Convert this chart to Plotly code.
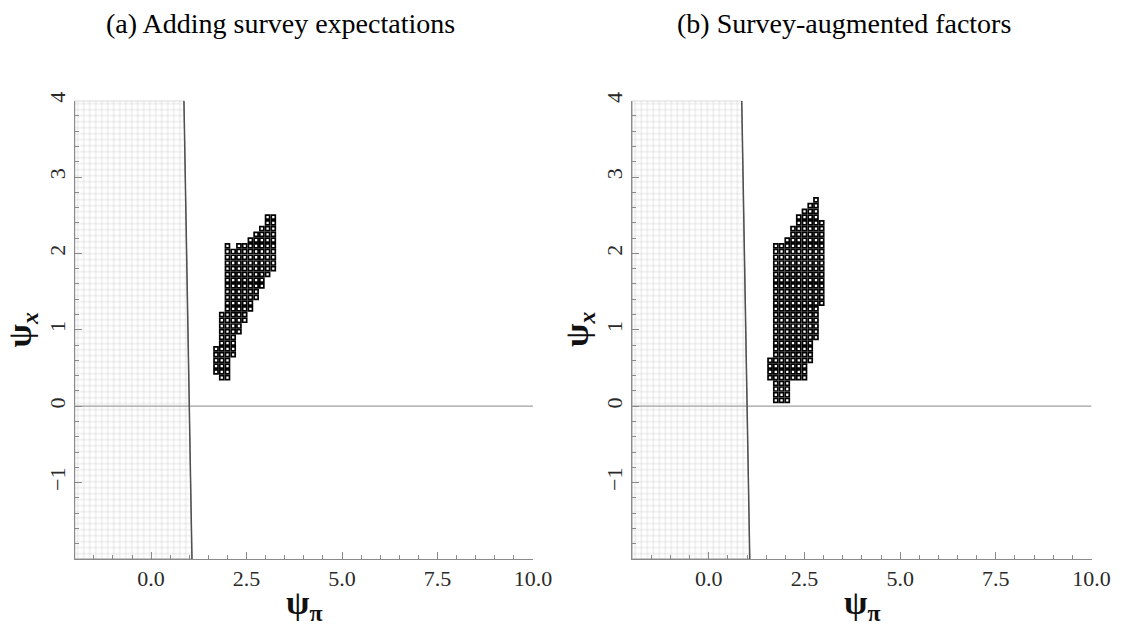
import numpy as np
import plotly.graph_objects as go

# ---------------- data ----------------
X_RANGE = [-2, 10]
Y_RANGE = [-2, 4]
X_TICKVALS = [0, 2.5, 5, 7.5, 10]
X_TICKTEXT = ["0.0", "2.5", "5.0", "7.5", "10.0"]
Y_TICKVALS = [-1, 0, 1, 2, 3, 4]
Y_TICKTEXT = ["\u22121", "0", "1", "2", "3", "4"]

# indeterminacy boundary (psi_pi at psi_x = 4 and psi_x = -2)
BOUNDARY_X = [0.86, 1.07]
BOUNDARY_Y = [4, -2]

GRID_DX = 0.15  # spacing of evaluated psi_pi grid points

TITLES = ["(a) Adding survey expectations", "(b) Survey-augmented factors"]

# panel (a): rows of the highlighted region (psi_x, first psi_pi, last psi_pi)
A_ROW_Y = [2.475, 2.4, 2.325, 2.25, 2.175, 2.1, 2.025, 1.95, 1.875, 1.8,
           1.725, 1.65, 1.575, 1.5, 1.425, 1.35, 1.275, 1.2, 1.125, 1.05,
           0.975, 0.9, 0.825, 0.75, 0.675, 0.6, 0.525, 0.45, 0.375]
A_ROW_XMIN = [3.05, 3.05, 2.9, 2.75, 2.6, 2.3, 2.0, 2.0, 2.0, 2.0,
              2.0, 2.0, 2.0, 2.0, 2.0, 2.0, 2.0, 1.85, 1.85, 1.85,
              1.85, 1.85, 1.85, 1.7, 1.7, 1.7, 1.7, 1.7, 1.85]
A_ROW_XMAX = [3.2, 3.2, 3.2, 3.2, 3.2, 3.2, 3.2, 3.2, 3.2, 3.2,
              3.05, 2.9, 2.9, 2.75, 2.75, 2.6, 2.6, 2.45, 2.45, 2.3,
              2.3, 2.15, 2.15, 2.15, 2.15, 2.0, 2.0, 2.0, 2.0]
A_EXTRA_X = [2.0]
A_EXTRA_Y = [2.1]

# panel (b)
B_ROW_Y = [2.7, 2.625, 2.55, 2.475, 2.4, 2.325, 2.25, 2.175, 2.1, 2.025,
           1.95, 1.875, 1.8, 1.725, 1.65, 1.575, 1.5, 1.425, 1.35, 1.275,
           1.2, 1.125, 1.05, 0.975, 0.9, 0.825, 0.75, 0.675, 0.6, 0.525,
           0.45, 0.375, 0.3, 0.225, 0.15, 0.075]
B_ROW_XMIN = [2.8, 2.65, 2.5, 2.35, 2.35, 2.2, 2.2, 2.05, 1.75, 1.75,
              1.75, 1.75, 1.75, 1.75, 1.75, 1.75, 1.75, 1.75, 1.75, 1.75,
              1.75, 1.75, 1.75, 1.75, 1.75, 1.75, 1.75, 1.75, 1.6, 1.6,
              1.6, 1.6, 1.75, 1.75, 1.75, 1.75]
B_ROW_XMAX = [2.8, 2.8, 2.8, 2.8, 2.95, 2.95, 2.95, 2.95, 2.95, 2.95,
              2.95, 2.95, 2.95, 2.95, 2.95, 2.95, 2.95, 2.95, 2.95, 2.8,
              2.8, 2.8, 2.8, 2.8, 2.8, 2.65, 2.65, 2.65, 2.65, 2.5,
              2.5, 2.5, 2.05, 2.05, 2.05, 2.05]


def expand(row_y, row_xmin, row_xmax, extra_x=(), extra_y=()):
    xs, ys = [], []
    for y, x0, x1 in zip(row_y, row_xmin, row_xmax):
        n = int(round((x1 - x0) / GRID_DX)) + 1
        for k in range(n):
            xs.append(x0 + k * GRID_DX)
            ys.append(y)
    xs += list(extra_x)
    ys += list(extra_y)
    return xs, ys


panels = [
    expand(A_ROW_Y, A_ROW_XMIN, A_ROW_XMAX, A_EXTRA_X, A_EXTRA_Y),
    expand(B_ROW_Y, B_ROW_XMIN, B_ROW_XMAX),
]

# ---------------- figure ----------------
W, H = 1140, 625
X_DOMAINS = [[76 / W, 542 / W], [643 / W, 1110 / W]]
Y_DOMAIN = [1 - 558 / H, 1 - 93 / H]
AXIS_GRAY = "#8a8a8a"
SERIF = "Liberation Serif, Times New Roman, serif"

fig = go.Figure()

for i, (px, py) in enumerate(panels):
    xa = "x" if i == 0 else "x2"
    ya = "y" if i == 0 else "y2"
    # hatched indeterminacy region
    fig.add_trace(go.Scatter(
        x=[X_RANGE[0], BOUNDARY_X[0], BOUNDARY_X[1], X_RANGE[0], X_RANGE[0]],
        y=[Y_RANGE[1], BOUNDARY_Y[0], BOUNDARY_Y[1], Y_RANGE[0], Y_RANGE[1]],
        mode="lines", fill="toself",
        fillpattern=dict(shape="+", size=6, solidity=0.2,
                         fgcolor="#a8a8a8", bgcolor="white"),
        line=dict(color="#a0a0a0", width=1),
        xaxis=xa, yaxis=ya, hoverinfo="skip"))
    # zero line
    fig.add_trace(go.Scatter(
        x=X_RANGE, y=[0, 0], mode="lines",
        line=dict(color="#a0a0a0", width=1.2),
        xaxis=xa, yaxis=ya, hoverinfo="skip"))
    # boundary line
    fig.add_trace(go.Scatter(
        x=BOUNDARY_X, y=BOUNDARY_Y, mode="lines",
        line=dict(color="#505050", width=1.5),
        xaxis=xa, yaxis=ya, hoverinfo="skip"))
    # highlighted grid points
    fig.add_trace(go.Scatter(
        x=px, y=py, mode="markers",
        marker=dict(symbol="square", size=4.0, color="white",
                    line=dict(color="black", width=1.7)),
        xaxis=xa, yaxis=ya))

xaxis_common = dict(
    range=X_RANGE, tickmode="array", tickvals=X_TICKVALS, ticktext=X_TICKTEXT,
    ticks="inside", ticklen=7, tickcolor=AXIS_GRAY, tickwidth=1,
    showline=True, linecolor=AXIS_GRAY, linewidth=1,
    showgrid=False, zeroline=False,
    minor=dict(tick0=0, dtick=0.5, ticks="inside", ticklen=4,
               tickcolor=AXIS_GRAY, showgrid=False),
    tickfont=dict(family=SERIF, size=22, color="#2a2a2a"),
)
yaxis_common = dict(
    range=Y_RANGE, tickmode="array", tickvals=Y_TICKVALS, ticktext=Y_TICKTEXT,
    ticks="inside", ticklen=7, tickcolor=AXIS_GRAY, tickwidth=1, tickangle=-90,
    showline=True, linecolor=AXIS_GRAY, linewidth=1,
    showgrid=False, zeroline=False,
    minor=dict(tick0=0, dtick=0.2, ticks="inside", ticklen=4,
               tickcolor=AXIS_GRAY, showgrid=False),
    tickfont=dict(family=SERIF, size=22, color="#2a2a2a"),
)

fig.update_layout(
    width=W, height=H, margin=dict(l=0, r=0, t=0, b=0),
    paper_bgcolor="white", plot_bgcolor="white", showlegend=False,
    xaxis=dict(domain=X_DOMAINS[0], anchor="y", **xaxis_common),
    yaxis=dict(domain=Y_DOMAIN, anchor="x", **yaxis_common),
    xaxis2=dict(domain=X_DOMAINS[1], anchor="y2", **xaxis_common),
    yaxis2=dict(domain=Y_DOMAIN, anchor="x2", **yaxis_common),
)

annotations = []
title_cx = [285 / W, 858 / W]
for i in range(2):
    annotations.append(dict(
        text=TITLES[i], xref="paper", yref="paper",
        x=title_cx[i], y=1 - 15 / H, xanchor="center", yanchor="middle",
        showarrow=False, font=dict(family=SERIF, size=28, color="black")))
    cx = (X_DOMAINS[i][0] + X_DOMAINS[i][1]) / 2
    annotations.append(dict(
        text="<b>\u03c8<sub>\u03c0</sub></b>", xref="paper", yref="paper",
        x=cx, y=1 - 605 / H, xanchor="center", yanchor="middle",
        showarrow=False, font=dict(family=SERIF, size=34, color="#111111")))
    annotations.append(dict(
        text="<b>\u03c8<sub><i>x</i></sub></b>", xref="paper", yref="paper",
        x=X_DOMAINS[i][0] - 54 / W, y=(Y_DOMAIN[0] + Y_DOMAIN[1]) / 2,
        xanchor="center", yanchor="middle", textangle=-90,
        showarrow=False, font=dict(family=SERIF, size=34, color="#111111")))
fig.update_layout(annotations=annotations)

fig.write_html("out.html")
